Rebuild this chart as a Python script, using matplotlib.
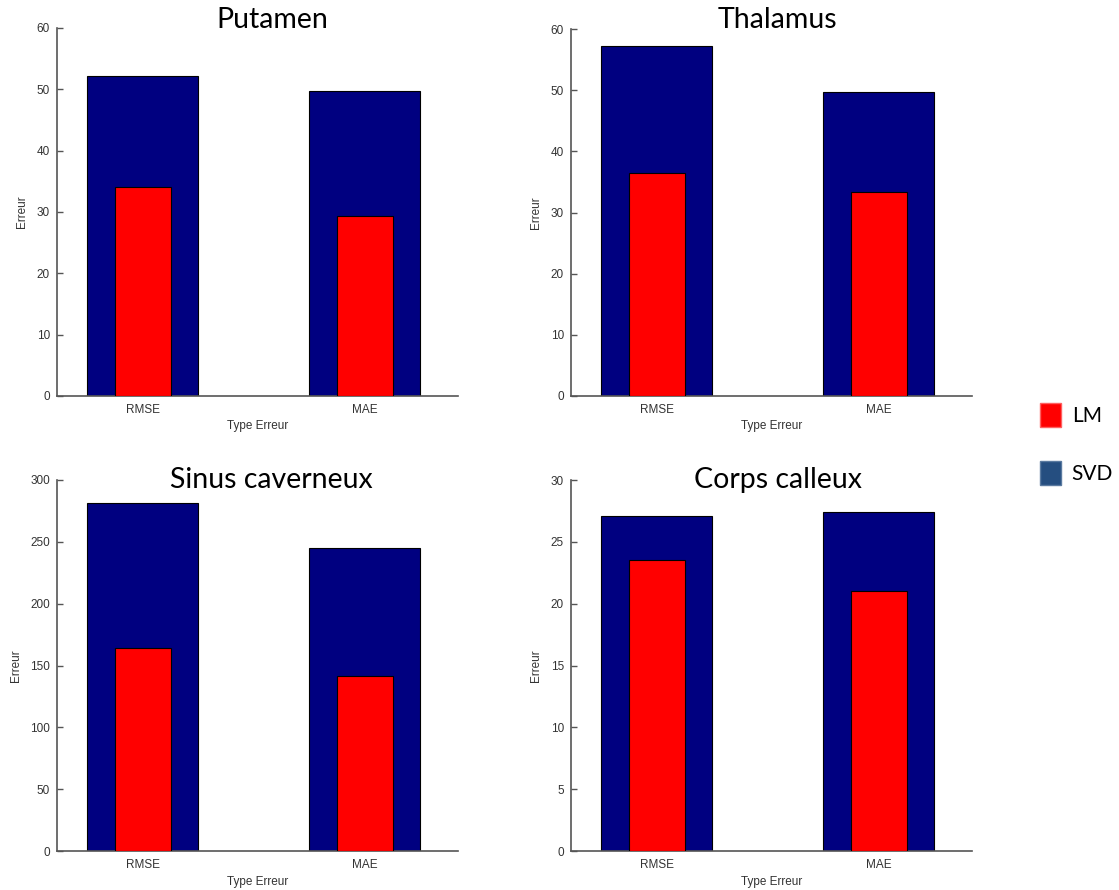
import matplotlib.pyplot as plt
from matplotlib.patches import Patch

# Data
categories = ["RMSE", "MAE"]
regions = ["Putamen", "Thalamus", "Sinus caverneux", "Corps calleux"]

svd_values = [
    [52.2, 49.7],     # Putamen
    [57.2, 49.7],     # Thalamus
    [281.6, 244.7],   # Sinus caverneux
    [27.1, 27.4],     # Corps calleux
]
lm_values = [
    [34.1, 29.4],
    [36.5, 33.4],
    [164.0, 141.5],
    [23.55, 21.0],
]
y_max = [60, 60, 300, 30]
y_step = [10, 10, 50, 5]

# layout (pixels -> figure fractions)
W, H = 1119, 890
boxes = [(57, 28, 458, 396), (571, 29, 972, 396),
         (57, 480, 458, 851), (571, 480, 972, 851)]
title_pos = [(272, 28), (777, 28), (271, 488), (778, 488)]

tick_font = ["Liberation Sans Narrow", "Liberation Sans", "DejaVu Sans"]
title_font = ["Lato", "DejaVu Sans"]
axis_grey = "#555555"

fig = plt.figure(figsize=(W / 100, H / 100), dpi=100)

x = [1, 2]
for i, region in enumerate(regions):
    l, t, r, b = boxes[i]
    ax = fig.add_axes([l / W, 1 - b / H, (r - l) / W, (b - t) / H])

    ax.bar(x, svd_values[i], width=0.5, color="#000080",
           edgecolor="black", linewidth=0.8, zorder=2)
    ax.bar(x, lm_values[i], width=0.25, color="#ff0000",
           edgecolor="black", linewidth=0.8, zorder=3)

    ax.set_xlim(0.613, 2.42)
    ax.set_ylim(0, y_max[i])
    ax.set_yticks(range(0, y_max[i] + 1, y_step[i]))
    ax.set_xticks(x)
    ax.set_xticklabels(categories)

    for side in ["top", "right"]:
        ax.spines[side].set_visible(False)
    for side in ["left", "bottom"]:
        ax.spines[side].set_color(axis_grey)
        ax.spines[side].set_linewidth(1.2)

    ax.tick_params(axis="y", direction="in", length=4, width=1,
                   color=axis_grey, labelcolor="#333333", pad=5)
    ax.tick_params(axis="x", length=0, labelcolor="#333333", pad=6)
    for lab in ax.get_xticklabels() + ax.get_yticklabels():
        lab.set_family(tick_font)
        lab.set_fontsize(8.5)

    ax.set_xlabel("Type Erreur", family=tick_font, fontsize=8.5,
                  color="#333333", labelpad=3)
    ax.set_ylabel("Erreur", family=tick_font, fontsize=8.5,
                  color="#333333", labelpad=6)

    tx, ty = title_pos[i]
    fig.text(tx / W, 1 - ty / H, region, family=title_font, fontsize=20.5,
             ha="center", va="baseline")

# legend
handles = [Patch(facecolor="#ff0000", edgecolor="#ff6060", label="LM"),
           Patch(facecolor="#254e80", edgecolor="#5a7aa0", label="SVD")]
fig.legend(handles=handles, loc="center left",
           bbox_to_anchor=(1030 / W, 1 - 444 / H),
           frameon=False, prop={"family": title_font, "size": 15},
           handlelength=1.0, handleheight=1.4, labelspacing=1.6,
           handletextpad=0.5, borderpad=0)

plt.savefig("out.png", dpi=100)
